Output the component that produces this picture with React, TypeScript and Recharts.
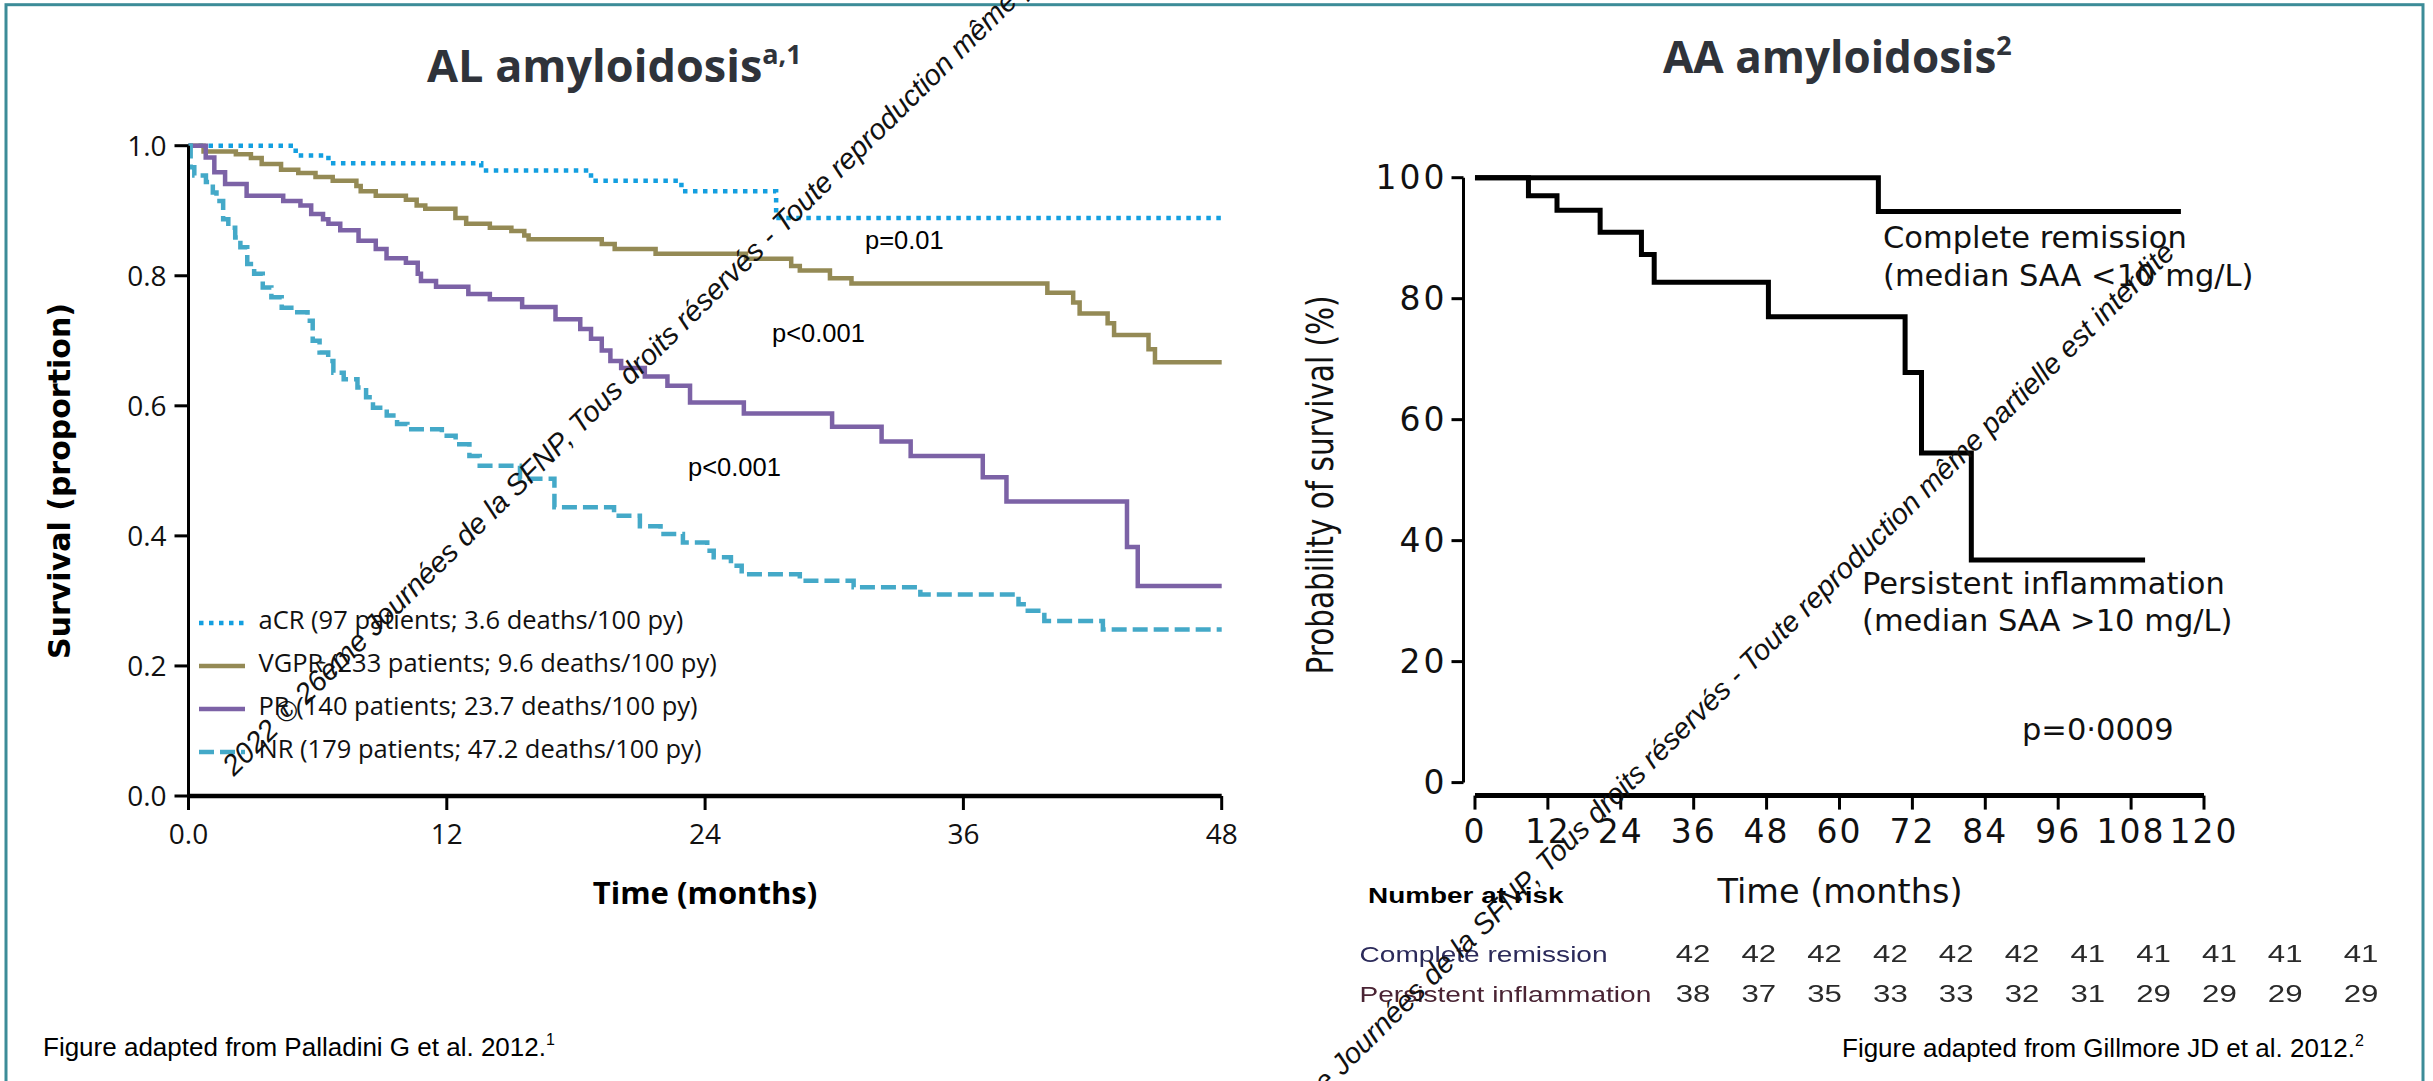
import React from "react";
import { LineChart, Line, XAxis, YAxis, ReferenceLine } from "recharts";

// ---- AL amyloidosis: overall survival by haematological response ----
const alMonthTicks = [0, 12, 24, 36, 48];
const alSurvivalTicks = [0, 0.2, 0.4, 0.6, 0.8, 1.0];

const acrMonths = [0, 4.98, 6.5, 13.6, 18.7, 22.9, 27.3, 48];
const acrSurvival = [1.0, 0.985, 0.973, 0.962, 0.946, 0.93, 0.889, 0.889];

const vgprMonths = [
  0, 0.7, 2.2, 2.9, 3.4, 4.3, 5.1, 5.9, 6.7, 7.8, 8.0, 8.7, 10.1, 10.6, 11.0, 12.4, 12.9, 14.0, 15.0,
  15.6, 15.8, 19.2, 19.8, 21.7, 25.9, 28.0, 28.4, 29.8, 30.8, 39.9, 41.1, 41.4, 42.7, 43.0, 44.6, 44.9, 48,
];
const vgprSurvival = [
  1.0, 0.991, 0.987, 0.981, 0.972, 0.963, 0.958, 0.952, 0.946, 0.938, 0.93, 0.923, 0.917, 0.908, 0.903,
  0.889, 0.88, 0.874, 0.869, 0.862, 0.856, 0.849, 0.841, 0.834, 0.826, 0.815, 0.808, 0.796, 0.788, 0.774,
  0.759, 0.742, 0.727, 0.709, 0.687, 0.667, 0.667,
];

const prMonths = [
  0, 0.8, 1.2, 1.7, 2.7, 4.4, 5.2, 5.7, 6.25, 6.5, 7.05, 7.9, 8.7, 9.2, 10.1, 10.65, 10.8, 11.5, 13.0,
  14.0, 15.5, 17.05, 18.2, 18.7, 19.2, 19.6, 20.1, 21.2, 22.25, 23.3, 25.8, 29.9, 32.2, 33.55, 36.9, 38.0,
  43.6, 44.1, 48,
];
const prSurvival = [
  1.0, 0.982, 0.959, 0.941, 0.923, 0.915, 0.908, 0.895, 0.887, 0.88, 0.87, 0.854, 0.841, 0.827, 0.82,
  0.803, 0.792, 0.783, 0.772, 0.764, 0.752, 0.733, 0.718, 0.703, 0.685, 0.669, 0.658, 0.645, 0.631, 0.605,
  0.588, 0.568, 0.545, 0.523, 0.49, 0.453, 0.383, 0.323, 0.323,
];

const nrMonths = [
  0, 0.1, 0.27, 0.81, 1.13, 1.3, 1.61, 1.85, 2.17, 2.41, 2.73, 3.05, 3.45, 3.85, 4.33, 4.89, 5.53, 5.77,
  6.09, 6.49, 6.73, 7.21, 7.85, 8.25, 8.57, 9.21, 9.69, 10.17, 11.77, 12.41, 13.05, 13.53, 15.4, 17.0,
  19.77, 20.97, 21.93, 22.97, 24.1, 24.4, 25.2, 25.7, 28.4, 30.9, 34.0, 38.56, 38.8, 39.76, 42.48, 48,
];
const nrSurvival = [
  1.0, 0.967, 0.954, 0.944, 0.928, 0.915, 0.887, 0.874, 0.859, 0.844, 0.818, 0.803, 0.782, 0.767, 0.751,
  0.744, 0.731, 0.7, 0.682, 0.669, 0.651, 0.641, 0.628, 0.613, 0.597, 0.585, 0.572, 0.564, 0.554, 0.541,
  0.523, 0.508, 0.488, 0.444, 0.431, 0.415, 0.403, 0.39, 0.377, 0.367, 0.354, 0.341, 0.331, 0.321, 0.31,
  0.295, 0.285, 0.269, 0.256, 0.256,
];

const alLabels = [
  "aCR (97 patients; 3.6 deaths/100 py)",
  "VGPR (233 patients; 9.6 deaths/100 py)",
  "PR (140 patients; 23.7 deaths/100 py)",
  "NR (179 patients; 47.2 deaths/100 py)",
];
const alPValues = ["p=0.01", "p<0.001", "p<0.001"];

// ---- AA amyloidosis: survival by serum amyloid A control ----
const aaMonthTicks = [0, 12, 24, 36, 48, 60, 72, 84, 96, 108, 120];
const aaSurvivalTicks = [0, 20, 40, 60, 80, 100];

const crMonths = [0, 66.4, 116.2];
const crSurvival = [100, 94.4, 94.4];

const piMonths = [0, 8.8, 13.5, 20.6, 27.4, 29.5, 48.3, 70.8, 73.5, 81.7, 110.3];
const piSurvival = [100, 97.0, 94.6, 91.0, 87.3, 82.7, 77.0, 67.8, 54.5, 36.8, 36.8];

const riskRows = ["Complete remission", "Persistent inflammation"];
const crAtRisk = [42, 42, 42, 42, 42, 42, 41, 41, 41, 41, 41];
const piAtRisk = [38, 37, 35, 33, 33, 32, 31, 29, 29, 29, 29];

const watermark =
  "2022 © 26ème Journées de la SFNP, Tous droits réservés - Toute reproduction même partielle est interdite";

type Pt = { t: number; s: number };
const zip = (months: number[], surv: number[]): Pt[] => months.map((t, i) => ({ t, s: surv[i] }));

const alSeries = [
  { key: "acr", color: "#139fe0", dash: "4.5 5.5", data: zip(acrMonths, acrSurvival) },
  { key: "vgpr", color: "#948a55", dash: undefined, data: zip(vgprMonths, vgprSurvival) },
  { key: "pr", color: "#7c62a6", dash: undefined, data: zip(prMonths, prSurvival) },
  { key: "nr", color: "#44a9c8", dash: "15 6", data: zip(nrMonths, nrSurvival) },
];

const aaSeries = [
  { key: "cr", data: zip(crMonths, crSurvival) },
  { key: "pi", data: zip(piMonths, piSurvival) },
];

const SANS = "Liberation Sans, Arial, sans-serif";
const OPEN = "Open Sans, Noto Sans, sans-serif";
const DEJAVU = "DejaVu Sans, Verdana, sans-serif";

function ALChart() {
  return (
    <div style={{ position: "absolute", left: 0, top: 0 }}>
      <LineChart width={1300} height={960} margin={{ top: 145.7, left: 88.5, right: 78.3, bottom: 104 }}>
        <XAxis
          type="number"
          dataKey="t"
          domain={[0, 48]}
          ticks={alMonthTicks}
          interval={0}
          height={60}
          tickFormatter={(v: number) => (v === 0 ? "0.0" : String(v))}
          axisLine={{ stroke: "#000", strokeWidth: 4.5 }}
          tickLine={{ stroke: "#000", strokeWidth: 3 }}
          tickSize={14}
          tickMargin={14}
          tick={{ fill: "#111", fontSize: 28, fontFamily: OPEN }}
        />
        <YAxis
          type="number"
          domain={[0, 1]}
          ticks={alSurvivalTicks}
          interval={0}
          width={100}
          tickFormatter={(v: number) => v.toFixed(1)}
          axisLine={{ stroke: "#000", strokeWidth: 3 }}
          tickLine={{ stroke: "#000", strokeWidth: 3 }}
          tickSize={14}
          tickMargin={8}
          tick={{ fill: "#111", fontSize: 28, fontFamily: OPEN }}
        />
        {alSeries.map((s) => (
          <Line
            key={s.key}
            data={s.data}
            dataKey="s"
            type="stepAfter"
            stroke={s.color}
            strokeWidth={4.5}
            strokeDasharray={s.dash}
            dot={false}
            activeDot={false}
            isAnimationActive={false}
          />
        ))}
      </LineChart>
    </div>
  );
}

function AAChart() {
  return (
    <div style={{ position: "absolute", left: 1300, top: 0 }}>
      <LineChart width={1000} height={960} margin={{ top: 177.7, left: 63.5, right: 96, bottom: 104.4 }}>
        <XAxis
          type="number"
          dataKey="t"
          domain={[-1.89, 120]}
          ticks={aaMonthTicks}
          interval={0}
          height={60}
          axisLine={false}
          tickLine={{ stroke: "#000", strokeWidth: 3 }}
          tickSize={14}
          tickMargin={10}
          tick={{ fill: "#111", fontSize: 33, fontFamily: DEJAVU, letterSpacing: 2 }}
        />
        <YAxis
          type="number"
          domain={[-2.15, 100]}
          ticks={aaSurvivalTicks}
          interval={0}
          width={100}
          axisLine={false}
          tickLine={{ stroke: "#000", strokeWidth: 3 }}
          tickSize={12}
          tickMargin={4}
          tick={{ fill: "#111", fontSize: 33, fontFamily: DEJAVU, letterSpacing: 3 }}
        />
        {/* offset axis lines, detached at the origin */}
        <ReferenceLine
          segment={[{ x: 0, y: -2.15 }, { x: 120, y: -2.15 }]}
          stroke="#000"
          strokeWidth={5}
          ifOverflow="visible"
        />
        <ReferenceLine
          segment={[{ x: -1.89, y: 0 }, { x: -1.89, y: 100 }]}
          stroke="#000"
          strokeWidth={3}
          ifOverflow="visible"
        />
        {aaSeries.map((s) => (
          <Line
            key={s.key}
            data={s.data}
            dataKey="s"
            type="stepAfter"
            stroke="#000"
            strokeWidth={5}
            dot={false}
            activeDot={false}
            isAnimationActive={false}
          />
        ))}
      </LineChart>
    </div>
  );
}

// text drawn wide, as in the scanned number-at-risk table
function Wide({ x, y, sx, children, ...rest }: any) {
  return (
    <text transform={`translate(${x},${y}) scale(${sx},1)`} {...rest}>
      {children}
    </text>
  );
}

function Overlay() {
  const legendBase = 629;
  const riskX = (i: number) => 1693 + i * 65.8 + (i === 10 ? 10 : 0);
  return (
    <svg
      width={2433}
      height={1081}
      style={{ position: "absolute", left: 0, top: 0, pointerEvents: "none" }}
    >
      <rect x={6} y={4.7} width={2417} height={1100} fill="none" stroke="#3c8c98" strokeWidth={3} />

      {/* titles */}
      <text x={427} y={82} fontFamily={OPEN} fontWeight={700} fontSize={45} fill="#2f333a">
        AL amyloidosis
        <tspan fontSize={27} dy={-18}>a,1</tspan>
      </text>
      <text x={1663} y={73} fontFamily={OPEN} fontWeight={700} fontSize={44} fill="#2f333a">
        AA amyloidosis
        <tspan fontSize={27} dy={-18}>2</tspan>
      </text>

      {/* AL axis titles */}
      <text
        transform="translate(59,481) rotate(-90)"
        textAnchor="middle"
        dominantBaseline="central"
        fontFamily={DEJAVU}
        fontWeight={700}
        fontSize={30}
        fill="#000"
      >
        Survival (proportion)
      </text>
      <text x={705} y={904} textAnchor="middle" fontFamily={OPEN} fontWeight={700} fontSize={31} fill="#000">
        Time (months)
      </text>

      {/* AL p-values */}
      <text x={865} y={249} fontFamily={SANS} fontSize={25.5} fill="#000">{alPValues[0]}</text>
      <text x={772} y={342} fontFamily={SANS} fontSize={25.5} fill="#000">{alPValues[1]}</text>
      <text x={688} y={476} fontFamily={SANS} fontSize={25.5} fill="#000">{alPValues[2]}</text>

      {/* AL legend */}
      {alSeries.map((s, i) => {
        const y = legendBase + i * 43;
        return (
          <g key={s.key}>
            <line x1={199} x2={245} y1={y - 6} y2={y - 6} stroke={s.color} strokeWidth={4.5} strokeDasharray={s.dash} />
            <text x={258.5} y={y} fontFamily={OPEN} fontSize={25.5} fill="#111">
              {alLabels[i]}
            </text>
          </g>
        );
      })}

      {/* AA axis titles */}
      <text
        transform="translate(1320,485) scale(1.25,1) rotate(-90)"
        textAnchor="middle"
        dominantBaseline="central"
        fontFamily={DEJAVU}
        fontSize={29.5}
        fill="#111"
      >
        Probability of survival (%)
      </text>
      <text x={1840} y={903} textAnchor="middle" fontFamily={DEJAVU} fontSize={33.5} fill="#111">
        Time (months)
      </text>

      {/* AA curve annotations */}
      <g fontFamily={DEJAVU} fontSize={30.5} fill="#111">
        <text x={1883} y={248}>Complete remission</text>
        <text x={1883} y={286}>(median SAA &lt;10 mg/L)</text>
        <text x={1862} y={594}>Persistent inflammation</text>
        <text x={1862} y={631}>(median SAA &gt;10 mg/L)</text>
        <text x={2022} y={740}>p=0·0009</text>
      </g>

      {/* number at risk */}
      <Wide x={1368} y={903} sx={1.27} fontFamily={SANS} fontWeight={700} fontSize={22} fill="#000">
        Number at risk
      </Wide>
      <g style={{ filter: "blur(0.5px)" }}>
        <Wide x={1359.5} y={961.7} sx={1.3} fontFamily={SANS} fontSize={21.6} fill="#2b2a5a">
          {riskRows[0]}
        </Wide>
        <Wide x={1359.5} y={1001.7} sx={1.3} fontFamily={SANS} fontSize={21.6} fill="#4a2434">
          {riskRows[1]}
        </Wide>
        {crAtRisk.map((n, i) => (
          <Wide key={"c" + i} x={riskX(i)} y={961.7} sx={1.3} textAnchor="middle" fontFamily={SANS} fontSize={24} fill="#2a2a2a">
            {n}
          </Wide>
        ))}
        {piAtRisk.map((n, i) => (
          <Wide key={"p" + i} x={riskX(i)} y={1001.7} sx={1.3} textAnchor="middle" fontFamily={SANS} fontSize={24} fill="#2a2a2a">
            {n}
          </Wide>
        ))}
      </g>

      {/* sources */}
      <text x={43} y={1056} fontFamily={SANS} fontSize={26} fill="#000">
        Figure adapted from Palladini G et al. 2012.
        <tspan fontSize={16} dy={-11}>1</tspan>
      </text>
      <text x={1842} y={1057} fontFamily={SANS} fontSize={26} fill="#000">
        Figure adapted from Gillmore JD et al. 2012.
        <tspan fontSize={16} dy={-11}>2</tspan>
      </text>

      {/* diagonal copyright notice */}
      <g fontFamily={SANS} fontStyle="italic" fontSize={29} fill="#111">
        <text transform="translate(234,777) rotate(-44.6)">{watermark}</text>
        <text transform="translate(1201,1216) rotate(-44.6)">{watermark}</text>
      </g>
    </svg>
  );
}

export default function App() {
  return (
    <div style={{ position: "relative", width: 2433, height: 1081, background: "#fff", overflow: "hidden" }}>
      <style>{"html,body{margin:0;padding:0;overflow:hidden}"}</style>
      <ALChart />
      <AAChart />
      <Overlay />
    </div>
  );
}
